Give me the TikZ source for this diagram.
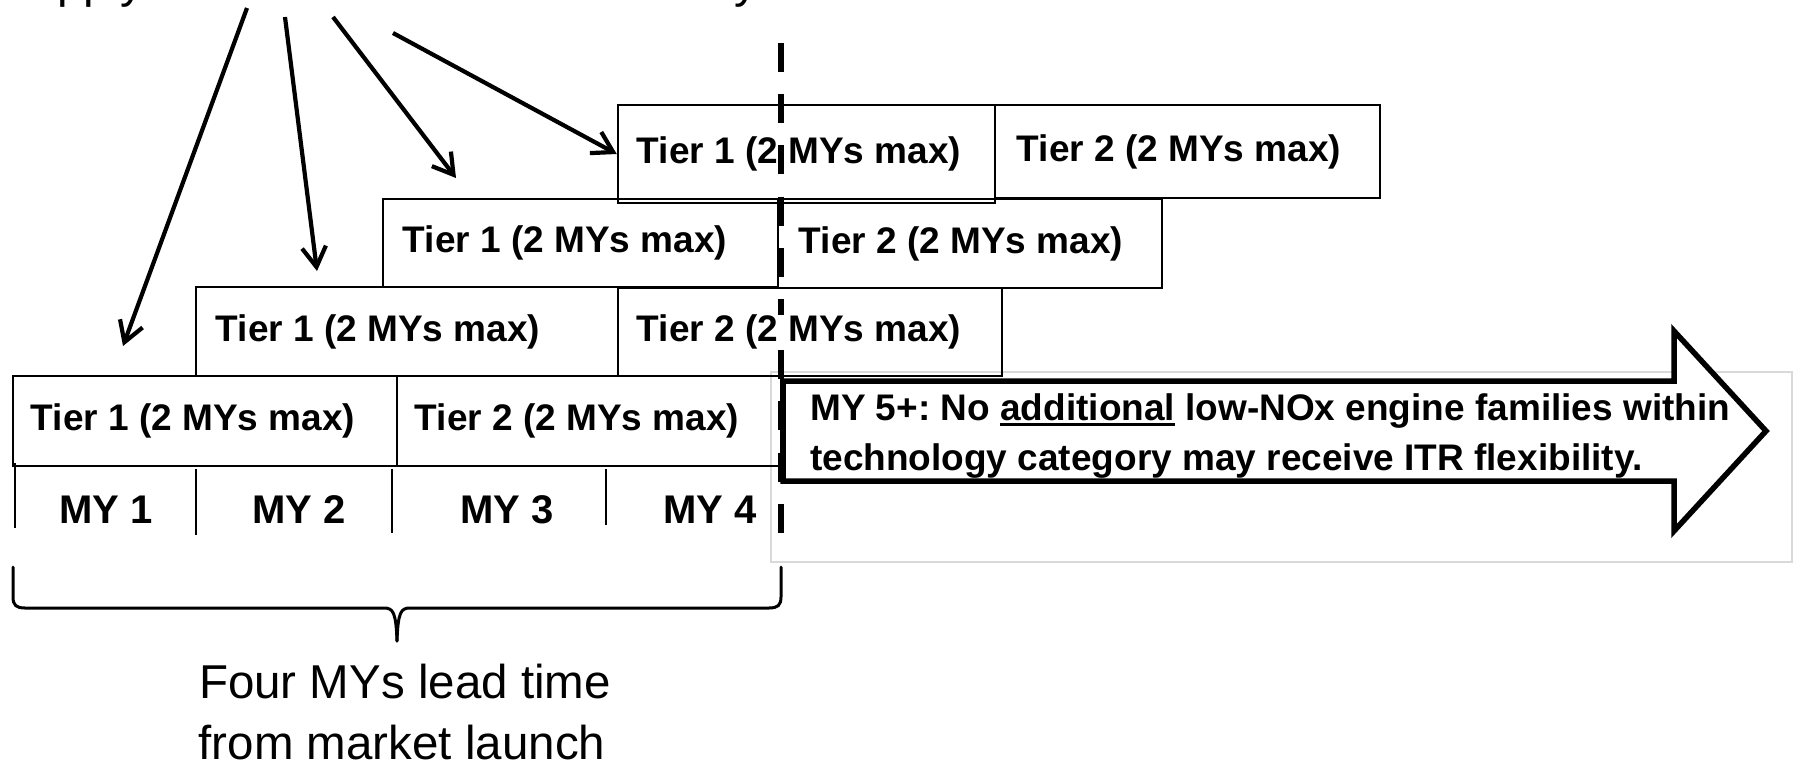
\documentclass[tikz,border=0pt]{standalone}
\usepackage{fontspec}
\setmainfont{Liberation Sans}
\usetikzlibrary{arrows.meta}
% underline with a rule of chosen depth and thickness
\newcommand{\ulword}[1]{\setbox0=\hbox{#1}\rlap{\rule[-5.8pt]{\wd0}{2.6pt}}\box0\relax}
\frenchspacing
\begin{document}
\begin{tikzpicture}[x=1pt,y=-1pt,
  tierbox/.style={draw, line width=2.5pt, inner sep=0pt, rectangle},
  tiertext/.style={anchor=west, inner sep=0pt, font=\fontsize{37}{44}\selectfont\bfseries},
  mylabel/.style={anchor=base, inner sep=0pt, font=\fontsize{40}{48}\selectfont\bfseries},
  arrowtext/.style={anchor=base west, inner sep=0pt, font=\fontsize{37}{44}\selectfont\bfseries},
  bracetext/.style={anchor=base, inner sep=0pt, font=\fontsize{47.5}{57}\selectfont},
  leadarrow/.style={line width=4.2pt, -{Straight Barb[length=20pt,width=24pt]}},
  yearline/.style={line width=2.5pt},
  bracestroke/.style={line width=3pt, line cap=round},
]
\fill[white] (0,0) rectangle (1800,764);
\useasboundingbox (0,0) rectangle (1800,764);

% heading line, mostly above the page edge
\node[anchor=base west, inner sep=0pt, font=\fontsize{47.5}{57}\selectfont] (supply) at (-1,-3) {Supply ITR to a first low-NOx\hspace{10pt} family};

% frame of the text area behind the big arrow
\draw[gray!30, line width=1.2pt] (771,372) rectangle (1792,562);

% staggered tier boxes
\node[tierbox, minimum width=377pt, minimum height=98pt] (a1) at (806.5,154) {};
\node[tierbox, minimum width=385pt, minimum height=93pt] (a2) at (1187.5,151.5) {};
\node[tierbox, minimum width=395pt, minimum height=88pt] (b1) at (580.5,243) {};
\node[tierbox, minimum width=384pt, minimum height=89pt] (b2) at (970,243.5) {};
\node[tierbox, minimum width=422pt, minimum height=89pt] (c1) at (407,331.5) {};
\node[tierbox, minimum width=384pt, minimum height=88pt] (c2) at (810,332) {};
\node[tierbox, minimum width=384pt, minimum height=90pt] (d1) at (205,421) {};
\node[tierbox, minimum width=384pt, minimum height=90pt] (d2) at (589,421) {};

\node[tiertext] (a1t) at ([xshift=20pt]a1.west) {Tier 1 (2 MYs max)};
\node[tiertext] (a2t) at ([xshift=23pt]a2.west) {Tier 2 (2 MYs max)};
\node[tiertext] (b1t) at ([xshift=21pt]b1.west) {Tier 1 (2 MYs max)};
\node[tiertext] (b2t) at ([xshift=22pt]b2.west) {Tier 2 (2 MYs max)};
\node[tiertext] (c1t) at ([xshift=21pt]c1.west) {Tier 1 (2 MYs max)};
\node[tiertext] (d1t) at ([xshift=19pt]d1.west) {Tier 1 (2 MYs max)};
\node[tiertext] (d2t) at ([xshift=19pt]d2.west) {Tier 2 (2 MYs max)};

% model year scale
\draw[yearline] (15,463) -- (15,528);
\draw[yearline] (196,469) -- (196,535);
\draw[yearline] (392,469) -- (392,533);
\draw[yearline] (606,469) -- (606,525);
\node[mylabel] (my1) at (106,523) {MY 1};
\node[mylabel] (my2) at (299,523) {MY 2};
\node[mylabel] (my3) at (507,523) {MY 3};
\node[mylabel] (my4) at (710,523) {MY 4};

% block arrow for MY 5 onwards
\draw[line width=5.5pt, fill=white, miter limit=10]
  (783,381) -- (1674,381) -- (1674,331) -- (1766,431) -- (1674,531) -- (1674,481) -- (783,481) -- cycle;
\node[arrowtext] (my5a) at (810,420) {MY 5+: No \ulword{additional} low-NOx engine families within};
\node[arrowtext] (my5b) at (810,470) {technology category may receive ITR flexibility.};

% end of the lead-time window
\draw[line width=6.5pt, dash pattern=on 29pt off 22.2pt] (781,43) -- (781,533);

\node[tiertext, fill=white] (c2t) at ([xshift=20pt]c2.west) {Tier 2 (2 MYs max)};

% pointers from the heading
\coordinate (s1) at (247,8);   \coordinate (e1) at (123,346);
\coordinate (s2) at (285,17);  \coordinate (e2) at (317,271);
\coordinate (s3) at (333,17);  \coordinate (e3) at (456,178);
\coordinate (s4) at (393,33);
\draw[leadarrow] (s1) -- (e1);
\draw[leadarrow] (s2) -- (e2);
\draw[leadarrow] (s3) -- (e3);
\draw[leadarrow] (s4) -- (a1.west);

% brace under the first four model years
\draw[bracestroke] (13,567) -- (13,597) .. controls (13,605) and (16,608) .. (25,608) -- (384,608) .. controls (393,608) and (396,612) .. (397,641);
\draw[bracestroke] (781,567) -- (781,597) .. controls (781,605) and (778,608) .. (769,608) -- (410,608) .. controls (401,608) and (398,612) .. (397,641);
\node[bracetext] (lead1) at (405,698) {Four MYs lead time};
\node[bracetext] (lead2) at (402,759) {from market launch};
\end{tikzpicture}
\end{document}
